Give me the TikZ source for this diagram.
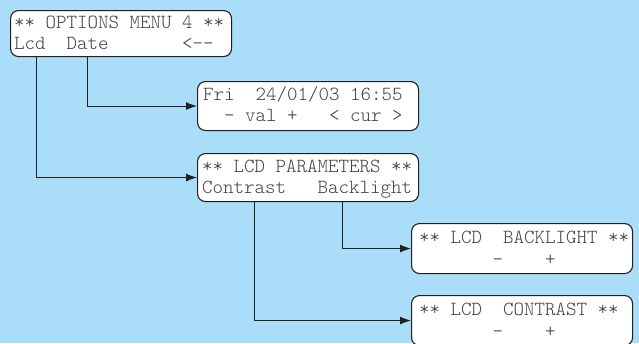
\documentclass[tikz,border=0pt]{standalone}
\usetikzlibrary{arrows.meta}
\definecolor{bgblue}{RGB}{170,222,248}
\definecolor{ink}{RGB}{35,31,32}
\newcommand{\lcdfont}{\fontsize{20}{21}\fontseries{l}\ttfamily\selectfont}
\tikzset{
  lcdbox/.style={draw=ink, line width=1.1pt, rounded corners=8pt, fill=white,
    minimum width=221pt, anchor=north west, inner sep=0pt},
  lcdtext/.style={anchor=base west, inner sep=0pt, font=\lcdfont, text=ink!85},
  link/.style={draw=ink, line width=1pt, -{Latex[length=11pt,width=8pt]}},
}
\begin{document}
\begin{tikzpicture}[x=1pt,y=-1pt]
\useasboundingbox (0,0) rectangle (639,343);
\fill[bgblue] (0,0) rectangle (639,343);
% boxes
\node[lcdbox, minimum height=46pt] (b1) at (10,10) {};
\node[lcdbox, minimum height=49pt] (b2) at (197,81) {};
\node[lcdbox, minimum height=48pt] (b3) at (197,153) {};
\node[lcdbox, minimum height=50pt] (b4) at (411,223) {};
\node[lcdbox, minimum height=50pt] (b5) at (411,295) {};
% texts
\node[lcdtext] (t1a) at (14,28) {** OPTIONS MENU 4 **};
\node[lcdtext] (t1b) at (14,49) {Lcd\ \ Date\ \ \ \ \ \ \ <--};
\node[lcdtext] (t2a) at (203,100) {Fri\ \ 24/01/03 16:55};
\node[lcdtext] (t2b) at (203,121) {\ \ - val +\ \ \ < cur >};
\node[lcdtext] (t3a) at (202,172) {** LCD PARAMETERS **};
\node[lcdtext] (t3b) at (202,193) {Contrast\ \ \ Backlight};
\node[lcdtext] (t4a) at (419,243) {** LCD\ \ BACKLIGHT **};
\node[lcdtext] (t4b) at (419,265) {\ \ \ \ \ \ \ -\ \ \ \ +};
\node[lcdtext] (t5a) at (419,315) {** LCD\ \ CONTRAST **};
\node[lcdtext] (t5b) at (419,337) {\ \ \ \ \ \ \ -\ \ \ \ +};
% connectors
\draw[link] ([xshift=26pt]b1.south west) |- (b3.west);
\draw[link] ([xshift=77pt]b1.south west) |- (b2.west);
\draw[link] ([xshift=57pt]b3.south west) |- (b5.west);
\draw[link] ([xshift=145pt]b3.south west) |- (b4.west);
\end{tikzpicture}
\end{document}
